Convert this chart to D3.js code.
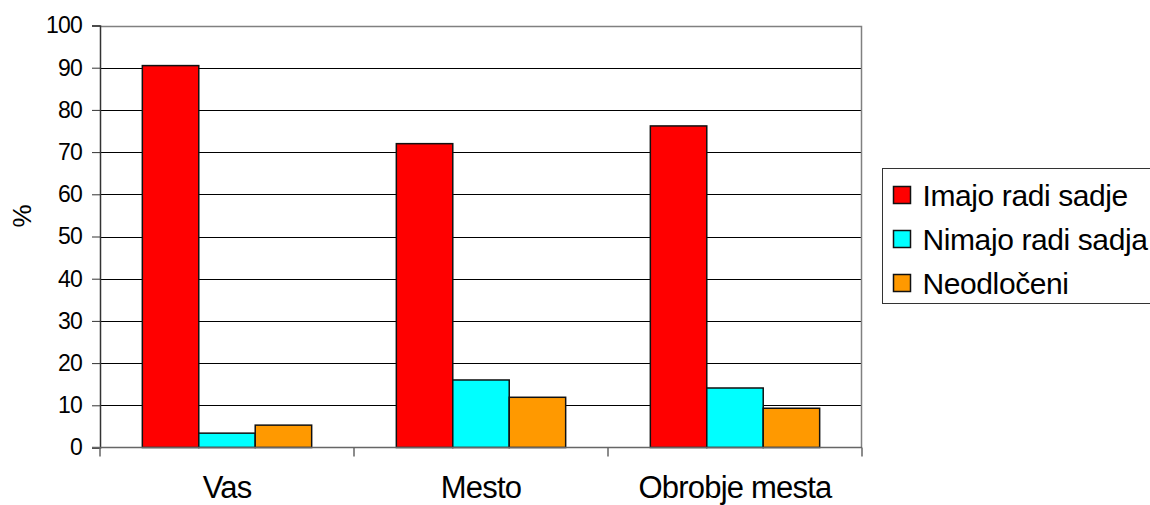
<!DOCTYPE html>
<html>
<head>
<meta charset="utf-8">
<script src="https://cdn.jsdelivr.net/npm/d3@7"></script>
<style>
  body { margin: 0; background: #fff; }
  svg { display: block; font-family: "Liberation Sans", Arial, sans-serif; }
</style>
</head>
<body>
<div id="chart"></div>
<script>
// Chart data
const categories = ["Vas", "Mesto", "Obrobje mesta"];
const seriesNames = ["Imajo radi sadje", "Nimajo radi sadja", "Neodločeni"];
const imajoRadi = [90.5, 72, 76.2];
const nimajoRadi = [3.4, 16, 14.1];
const neodloceni = [5.3, 11.9, 9.3];
const yTicks = [0, 10, 20, 30, 40, 50, 60, 70, 80, 90, 100];
const yLabel = "%";

const seriesColors = ["#FF0000", "#00FFFF", "#FF9900"];
const seriesValues = [imajoRadi, nimajoRadi, neodloceni];

const width = 1150;
const height = 505;
const plot = {left: 100, right: 862, top: 25.5, bottom: 447.5};

const svg = d3.select("#chart")
    .append("svg")
    .attr("width", width)
    .attr("height", height);

// Scales
const x0 = d3.scaleBand()
    .domain(categories)
    .range([plot.left, plot.right])
    .paddingInner(0)
    .paddingOuter(0);

const x1 = d3.scaleBand()
    .domain(seriesNames)
    .range([0, x0.bandwidth()])
    .paddingInner(0)
    .paddingOuter(0.75);

const y = d3.scaleLinear()
    .domain([0, 100])
    .range([plot.bottom, plot.top]);

// Gridlines
svg.append("g")
    .selectAll("line")
    .data(yTicks.filter(d => d > 0 && d < 100))
    .enter()
    .append("line")
    .attr("x1", plot.left)
    .attr("x2", plot.right)
    .attr("y1", d => Math.round(y(d)) + 0.5)
    .attr("y2", d => Math.round(y(d)) + 0.5)
    .attr("stroke", "#000")
    .attr("stroke-width", 1);

// Plot border top and right
svg.append("path")
    .attr("d", `M${plot.left},${Math.round(plot.top) + 0.5}H${plot.right - 0.5}V${plot.bottom}`)
    .attr("fill", "none")
    .attr("stroke", "#808080")
    .attr("stroke-width", 1.5);

// Bars
const barData = [];
categories.forEach((c, i) => {
    seriesNames.forEach((s, j) => {
        barData.push({cat: c, series: s, value: seriesValues[j][i], color: seriesColors[j]});
    });
});

svg.append("g")
    .selectAll("rect")
    .data(barData)
    .enter()
    .append("rect")
    .attr("x", d => x0(d.cat) + x1(d.series))
    .attr("y", d => y(d.value))
    .attr("width", x1.bandwidth())
    .attr("height", d => y(0) - y(d.value))
    .attr("fill", d => d.color)
    .attr("stroke", "#111")
    .attr("stroke-width", 1.5);

// Y axis
const yAxis = svg.append("g")
    .attr("transform", `translate(${plot.left},0)`)
    .call(d3.axisLeft(y).tickValues(yTicks).tickSize(8).tickPadding(10).tickFormat(d3.format("d")));
yAxis.select(".domain").attr("stroke", "#333").attr("stroke-width", 1.5);
yAxis.selectAll(".tick line").attr("stroke", "#333").attr("stroke-width", 1);
yAxis.selectAll("text")
    .attr("fill", "#000")
    .style("font-size", "23px")
    .style("font-family", "'Liberation Sans', Arial, sans-serif")
    .style("letter-spacing", "-0.8px");

// X axis
const xAxis = svg.append("g")
    .attr("transform", `translate(0,${plot.bottom})`);
xAxis.append("line")
    .attr("x1", plot.left - 8)
    .attr("x2", plot.right)
    .attr("y1", 0)
    .attr("y2", 0)
    .attr("stroke", "#666")
    .attr("stroke-width", 1.5);
const boundaries = categories.map(c => x0(c)).concat([x0(categories[categories.length - 1]) + x0.bandwidth()]);
xAxis.selectAll("line.tick")
    .data(boundaries)
    .enter()
    .append("line")
    .attr("class", "tick")
    .attr("x1", d => d)
    .attr("x2", d => d)
    .attr("y1", 0)
    .attr("y2", 9)
    .attr("stroke", "#666")
    .attr("stroke-width", 1.5);
xAxis.selectAll("text")
    .data(categories)
    .enter()
    .append("text")
    .attr("x", d => x0(d) + x0.bandwidth() / 2)
    .attr("y", 50)
    .attr("text-anchor", "middle")
    .style("font-size", "31px")
    .style("letter-spacing", "-0.8px")
    .text(d => d);

// Y axis label
svg.append("text")
    .attr("transform", "translate(31,216) rotate(-90)")
    .attr("text-anchor", "middle")
    .style("font-size", "26px")
    .text(yLabel);

// Legend
const legend = svg.append("g")
    .attr("transform", "translate(882.5,168.5)");
legend.append("rect")
    .attr("width", 300)
    .attr("height", 135)
    .attr("fill", "#fff")
    .attr("stroke", "#333")
    .attr("stroke-width", 1);

seriesNames.forEach((s, i) => {
    const row = legend.append("g")
        .attr("transform", `translate(11,${18 + i * 44})`);
    row.append("rect")
        .attr("width", 17)
        .attr("height", 17)
        .attr("fill", seriesColors[i])
        .attr("stroke", "#111")
        .attr("stroke-width", 1.5);
    row.append("text")
        .attr("x", 29)
        .attr("y", 19)
        .style("font-size", "30px")
        .style("letter-spacing", "-0.4px")
        .text(s);
});
</script>
</body>
</html>
